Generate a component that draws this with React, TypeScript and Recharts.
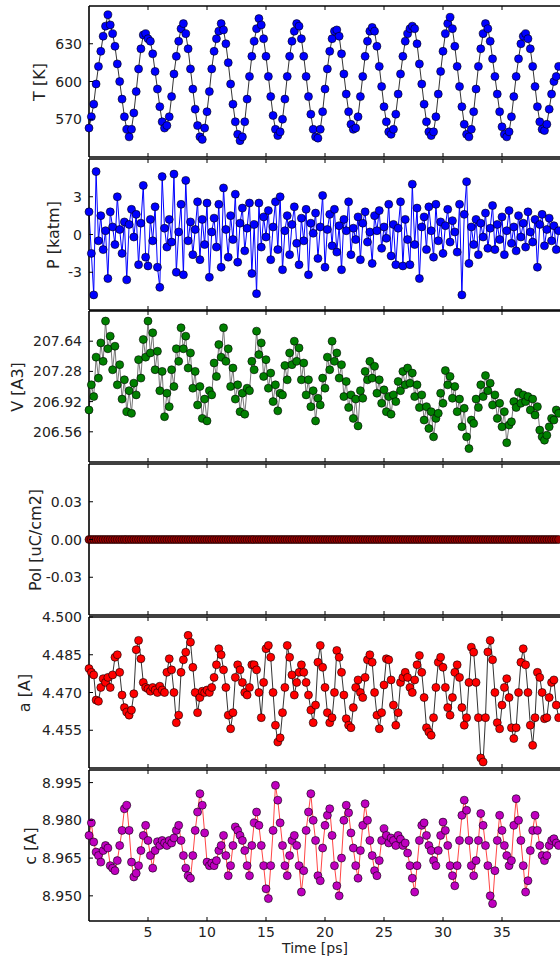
import React from 'react';
import { LineChart, Line, XAxis, YAxis } from 'recharts';

// time axis [ps], one sample every 0.2 ps
const TIME = [
  0, 0.2, 0.4, 0.6, 0.8, 1, 1.2, 1.4, 1.6, 1.8,
  2, 2.2, 2.4, 2.6, 2.8, 3, 3.2, 3.4, 3.6, 3.8,
  4, 4.2, 4.4, 4.6, 4.8, 5, 5.2, 5.4, 5.6, 5.8,
  6, 6.2, 6.4, 6.6, 6.8, 7, 7.2, 7.4, 7.6, 7.8,
  8, 8.2, 8.4, 8.6, 8.8, 9, 9.2, 9.4, 9.6, 9.8,
  10, 10.2, 10.4, 10.6, 10.8, 11, 11.2, 11.4, 11.6, 11.8,
  12, 12.2, 12.4, 12.6, 12.8, 13, 13.2, 13.4, 13.6, 13.8,
  14, 14.2, 14.4, 14.6, 14.8, 15, 15.2, 15.4, 15.6, 15.8,
  16, 16.2, 16.4, 16.6, 16.8, 17, 17.2, 17.4, 17.6, 17.8,
  18, 18.2, 18.4, 18.6, 18.8, 19, 19.2, 19.4, 19.6, 19.8,
  20, 20.2, 20.4, 20.6, 20.8, 21, 21.2, 21.4, 21.6, 21.8,
  22, 22.2, 22.4, 22.6, 22.8, 23, 23.2, 23.4, 23.6, 23.8,
  24, 24.2, 24.4, 24.6, 24.8, 25, 25.2, 25.4, 25.6, 25.8,
  26, 26.2, 26.4, 26.6, 26.8, 27, 27.2, 27.4, 27.6, 27.8,
  28, 28.2, 28.4, 28.6, 28.8, 29, 29.2, 29.4, 29.6, 29.8,
  30, 30.2, 30.4, 30.6, 30.8, 31, 31.2, 31.4, 31.6, 31.8,
  32, 32.2, 32.4, 32.6, 32.8, 33, 33.2, 33.4, 33.6, 33.8,
  34, 34.2, 34.4, 34.6, 34.8, 35, 35.2, 35.4, 35.6, 35.8,
  36, 36.2, 36.4, 36.6, 36.8, 37, 37.2, 37.4, 37.6, 37.8,
  38, 38.2, 38.4, 38.6, 38.8, 39, 39.2, 39.4, 39.6, 39.8,
];

// temperature [K]
const TEMP = [
  563, 572, 582, 598, 612, 624, 636, 644, 653, 645,
  638, 628, 614, 600, 586, 572, 562, 556, 562, 575,
  592, 610, 626, 637, 638, 634, 632, 622, 608, 594,
  580, 568, 563, 565, 572, 588, 606, 620, 632, 642,
  646, 638, 626, 610, 594, 578, 565, 556, 554, 563,
  576, 592, 610, 624, 634, 640, 646, 641, 630, 615,
  598, 582, 568, 558, 553, 556, 568, 586, 604, 620,
  632, 642, 650, 645, 634, 620, 604, 588, 573, 562,
  557, 560, 570, 586, 604, 620, 632, 640, 646, 644,
  634, 620, 604, 588, 574, 562, 556, 555, 562, 576,
  594, 610, 624, 634, 640, 641, 636, 622, 606, 590,
  576, 566, 562, 563, 572, 588, 604, 620, 632, 640,
  643, 640, 628, 612, 596, 580, 568, 560, 558, 562,
  574, 590, 606, 620, 632, 638, 642, 644, 642, 630,
  614, 598, 582, 568, 560, 557, 560, 572, 590, 608,
  624, 638, 646, 651, 642, 628, 612, 596, 580, 566,
  558, 556, 562, 576, 594, 612, 626, 638, 646, 642,
  632, 618, 604, 590, 576, 564, 558, 556, 560, 572,
  588, 604, 618, 630, 636, 638, 634, 626, 612, 596,
  580, 568, 562, 561, 566, 578, 590, 600, 604, 612,
];

// pressure [katm]
const PRESS = [
  1.8, -1.5, -4.8, 5.0, -0.5, 1.5, -1.2, 0.3, -3.5, 1.8,
  0.6, -0.8, 3.0, 0.4, -1.5, 1.0, -3.6, 0.8, 2.0, -0.2,
  1.6, -2.4, 0.9, 3.9, -1.8, -2.5, 1.2, -0.5, 2.2, -2.6,
  -4.2, 4.6, 0.5, -1.0, 1.2, -0.6, 4.8, -3.0, 0.2, 2.4,
  -3.2, 4.3, -0.5, 1.0, -1.6, 0.4, 2.6, -2.0, 1.2, -0.8,
  2.5, -3.4, 0.2, 1.3, -1.0, 2.4, -2.6, 3.7, 0.4, -1.8,
  1.5, -0.4, 3.2, -2.2, 0.9, 2.1, -1.3, 0.5, 2.5, -3.1,
  0.8, -4.7, 2.5, -1.0, 1.4, -0.2, 1.9, -2.0, 0.6, 2.6,
  -1.2, 3.0, -2.8, 0.3, 1.5, -1.6, 0.8, 2.2, -0.7, -2.4,
  1.3, -0.5, 2.0, -3.2, 0.9, 0.1, 1.7, -1.9, 0.6, 3.1,
  -2.6, 0.4, 1.6, -0.9, 2.0, -1.4, 0.7, -2.8, 1.2, 0.3,
  2.6, -1.6, 0.5, -0.4, 1.4, -2.0, 0.9, 1.8, -0.6, 0.2,
  -2.3, 1.5, 0.3, 1.9, -1.1, 0.6, -0.3, 2.4, -1.7, 0.8,
  -2.4, 0.5, 2.6, -2.5, 1.2, -0.4, -2.4, 4.0, -0.8, 2.1,
  -3.5, 0.6, 1.4, -1.2, 2.2, 0.3, -1.8, 2.4, -0.5, 1.0,
  -1.5, 0.7, 2.0, -0.6, 1.1, 0.2, -1.4, 2.4, -4.8, 1.6,
  4.2, -2.3, 0.6, -0.8, 1.2, -1.6, 0.9, -0.2, 1.7, -1.1,
  0.5, 2.3, -1.2, 0.8, -0.4, 1.4, -1.6, 0.3, 1.9, -0.7,
  0.6, -1.3, 1.5, -0.2, 0.9, -1.0, 1.8, 0.2, -0.6, 1.2,
  -2.6, 0.8, 1.6, -0.9, 0.4, 1.3, -0.5, 0.7, -1.2, 0.3,
];

// volume [A3]
const VOL = [
  206.82, 207.12, 206.98, 207.45, 207.2, 207.62, 207.4, 207.88, 207.55, 207.7,
  207.3, 207.58, 207.12, 207.36, 206.95, 207.18, 206.8, 207.05, 206.78, 207.14,
  207.0, 207.42, 207.2, 207.66, 207.45, 207.88, 207.5, 207.74, 207.3, 207.52,
  207.05, 207.28, 206.74, 207.02, 206.86, 207.3, 207.1, 207.55, 207.4, 207.8,
  207.55, 207.7, 207.32, 207.5, 207.08, 207.28, 206.88, 207.1, 206.72, 206.95,
  206.69, 207.05, 207.0, 207.38, 207.22, 207.6, 207.45, 207.8, 207.4, 207.55,
  207.1, 207.32, 206.95, 207.12, 206.8, 207.02, 206.77, 207.08, 207.05, 207.4,
  207.3, 207.76, 207.48, 207.62, 207.22, 207.42, 207.08, 207.26, 206.92, 207.12,
  206.81, 207.02, 207.0, 207.35, 207.18, 207.5, 207.36, 207.64, 207.4, 207.56,
  207.18, 207.38, 207.0, 207.18, 206.86, 207.05, 206.69, 206.96, 206.88, 207.2,
  207.08, 207.45, 207.3, 207.64, 207.4, 207.5, 207.2, 207.36, 206.98, 207.16,
  206.85, 207.0, 206.72, 206.95, 206.63, 207.05, 206.96, 207.28, 207.18, 207.4,
  207.2, 207.34, 207.02, 207.18, 206.9, 207.06, 206.8, 206.98, 206.77, 207.0,
  206.92, 207.16, 207.05, 207.28, 207.12, 207.32, 207.14, 207.26, 206.98, 207.12,
  206.85, 207.0, 206.7, 206.86, 206.6, 206.8, 206.5, 206.72, 206.78, 207.02,
  206.9, 207.29, 207.12, 207.22, 206.96, 207.1, 206.8, 206.95, 206.62, 206.84,
  206.5, 206.36, 206.7, 206.66, 206.95, 206.85, 207.12, 206.98, 207.23, 207.05,
  207.14, 206.88, 207.0, 206.72, 206.9, 206.62, 206.8, 206.43, 206.64, 206.68,
  206.92, 206.85, 207.03, 206.9, 207.0, 206.92, 206.98, 206.82, 206.95, 206.76,
  206.86, 206.58, 206.5, 206.46, 206.52, 206.62, 206.72, 206.7, 206.82, 206.78,
];

// polarization [uC/cm2]
const POL = [
  0, 0, 0, 0, 0, 0, 0, 0, 0, 0,
  0, 0, 0, 0, 0, 0, 0, 0, 0, 0,
  0, 0, 0, 0, 0, 0, 0, 0, 0, 0,
  0, 0, 0, 0, 0, 0, 0, 0, 0, 0,
  0, 0, 0, 0, 0, 0, 0, 0, 0, 0,
  0, 0, 0, 0, 0, 0, 0, 0, 0, 0,
  0, 0, 0, 0, 0, 0, 0, 0, 0, 0,
  0, 0, 0, 0, 0, 0, 0, 0, 0, 0,
  0, 0, 0, 0, 0, 0, 0, 0, 0, 0,
  0, 0, 0, 0, 0, 0, 0, 0, 0, 0,
  0, 0, 0, 0, 0, 0, 0, 0, 0, 0,
  0, 0, 0, 0, 0, 0, 0, 0, 0, 0,
  0, 0, 0, 0, 0, 0, 0, 0, 0, 0,
  0, 0, 0, 0, 0, 0, 0, 0, 0, 0,
  0, 0, 0, 0, 0, 0, 0, 0, 0, 0,
  0, 0, 0, 0, 0, 0, 0, 0, 0, 0,
  0, 0, 0, 0, 0, 0, 0, 0, 0, 0,
  0, 0, 0, 0, 0, 0, 0, 0, 0, 0,
  0, 0, 0, 0, 0, 0, 0, 0, 0, 0,
  0, 0, 0, 0, 0, 0, 0, 0, 0, 0,
];

// lattice a [A]
const LAT_A = [
  4.4795, 4.478, 4.477, 4.467, 4.4665, 4.472, 4.4755, 4.474, 4.476, 4.472,
  4.477, 4.484, 4.485, 4.478, 4.469, 4.464, 4.4622, 4.461, 4.463, 4.4695,
  4.487, 4.4907, 4.4834, 4.474, 4.472, 4.4715, 4.4705, 4.472, 4.471, 4.47,
  4.4725, 4.471, 4.47, 4.478, 4.4834, 4.479, 4.47, 4.458, 4.461, 4.478,
  4.483, 4.486, 4.4927, 4.49, 4.48, 4.47, 4.462, 4.468, 4.4705, 4.47,
  4.471, 4.47, 4.472, 4.476, 4.481, 4.4874, 4.485, 4.479, 4.472, 4.461,
  4.4556, 4.462, 4.476, 4.481, 4.479, 4.474, 4.47, 4.469, 4.472, 4.481,
  4.481, 4.479, 4.47, 4.46, 4.474, 4.4874, 4.4887, 4.484, 4.47, 4.457,
  4.4503, 4.452, 4.462, 4.472, 4.4887, 4.484, 4.477, 4.469, 4.474, 4.478,
  4.481, 4.478, 4.474, 4.469, 4.463, 4.458, 4.465, 4.482, 4.4887, 4.48,
  4.472, 4.462, 4.458, 4.46, 4.47, 4.4867, 4.484, 4.478, 4.469, 4.4596,
  4.457, 4.456, 4.464, 4.472, 4.475, 4.47, 4.468, 4.476, 4.483, 4.485,
  4.482, 4.47, 4.461, 4.4556, 4.462, 4.473, 4.4834, 4.483, 4.475, 4.465,
  4.457, 4.462, 4.474, 4.476, 4.478, 4.476, 4.472, 4.47, 4.475, 4.481,
  4.4847, 4.478, 4.468, 4.456, 4.4543, 4.453, 4.46, 4.472, 4.482, 4.484,
  4.48, 4.472, 4.464, 4.461, 4.468, 4.478, 4.481, 4.476, 4.464, 4.457,
  4.46, 4.474, 4.488, 4.486, 4.474, 4.46, 4.444, 4.4424, 4.46, 4.4861,
  4.4907, 4.483, 4.47, 4.458, 4.4556, 4.465, 4.472, 4.4755, 4.468, 4.456,
  4.4517, 4.456, 4.47, 4.482, 4.4874, 4.481, 4.47, 4.457, 4.449, 4.46,
  4.478, 4.476, 4.47, 4.4596, 4.46, 4.468, 4.474, 4.475, 4.465, 4.46,
];

// lattice c [A]
const LAT_C = [
  8.974, 8.979, 8.9714, 8.9674, 8.966, 8.9634, 8.968, 8.97, 8.969, 8.962,
  8.961, 8.96, 8.964, 8.97, 8.976, 8.9846, 8.986, 8.976, 8.9634, 8.9575,
  8.959, 8.962, 8.968, 8.974, 8.978, 8.972, 8.966, 8.961, 8.968, 8.9715,
  8.97, 8.972, 8.971, 8.97, 8.972, 8.971, 8.973, 8.976, 8.978, 8.972,
  8.966, 8.961, 8.958, 8.957, 8.966, 8.976, 8.9833, 8.9906, 8.986, 8.975,
  8.9634, 8.962, 8.963, 8.962, 8.964, 8.968, 8.97, 8.974, 8.966, 8.958,
  8.962, 8.97, 8.9774, 8.976, 8.974, 8.972, 8.968, 8.962, 8.958, 8.97,
  8.979, 8.9833, 8.978, 8.97, 8.962, 8.9528, 8.9489, 8.962, 8.976, 8.9939,
  8.988, 8.979, 8.97, 8.962, 8.958, 8.966, 8.972, 8.974, 8.97, 8.962,
  8.9515, 8.96, 8.976, 8.9833, 8.9906, 8.98, 8.972, 8.958, 8.956, 8.969,
  8.978, 8.982, 8.9846, 8.974, 8.962, 8.954, 8.95, 8.965, 8.98, 8.986,
  8.983, 8.975, 8.969, 8.962, 8.957, 8.968, 8.978, 8.9866, 8.98, 8.972,
  8.966, 8.96, 8.958, 8.964, 8.972, 8.9767, 8.974, 8.971, 8.973, 8.972,
  8.97, 8.974, 8.9725, 8.97, 8.971, 8.967, 8.962, 8.957, 8.9515, 8.962,
  8.972, 8.978, 8.979, 8.974, 8.97, 8.968, 8.964, 8.962, 8.968, 8.974,
  8.9793, 8.976, 8.97, 8.962, 8.958, 8.954, 8.962, 8.972, 8.982, 8.988,
  8.984, 8.972, 8.962, 8.958, 8.964, 8.972, 8.9827, 8.978, 8.97, 8.962,
  8.95, 8.9469, 8.96, 8.972, 8.982, 8.976, 8.97, 8.966, 8.962, 8.964,
  8.978, 8.9886, 8.98, 8.972, 8.962, 8.9515, 8.956, 8.968, 8.976, 8.982,
  8.976, 8.97, 8.966, 8.964, 8.966, 8.97, 8.972, 8.9727, 8.971, 8.97,
];

const X_TICKS = [5, 10, 15, 20, 25, 30, 35];

const rows = TIME.map((t, i) => ({
  t,
  T: TEMP[i],
  P: PRESS[i],
  V: VOL[i],
  Pol: POL[i],
  a: LAT_A[i],
  c: LAT_C[i],
}));

const FONT = '"DejaVu Sans", "Liberation Sans", sans-serif';
const PLOT_H = 151;
const TICK_LEN = 4;

const panels = [
  { key: 'T', title: 'T [K]', titleX: 40, top: 6, domain: [540, 660], ticks: [570, 600, 630], digits: 0, fill: '#0000ff', line: '#000000', lineW: 0.8 },
  { key: 'P', title: 'P [katm]', titleX: 54, top: 159, domain: [-6, 6], ticks: [-3, 0, 3], digits: 0, fill: '#0000ff', line: '#0000ff', lineW: 1 },
  { key: 'V', title: 'V [A3]', titleX: 18, top: 311, domain: [206.2, 208.0], ticks: [206.56, 206.92, 207.28, 207.64], digits: 2, fill: '#008000', line: '#555555', lineW: 0.8 },
  { key: 'Pol', title: 'Pol [uC/cm2]', titleX: 36, top: 464, domain: [-0.06, 0.06], ticks: [-0.03, 0, 0.03], digits: 2, fill: '#990000', line: '#000000', lineW: 0.8 },
  { key: 'a', title: 'a [A]', titleX: 25, top: 617, domain: [4.44, 4.5], ticks: [4.455, 4.47, 4.485, 4.5], digits: 3, fill: '#ff0000', line: '#000000', lineW: 0.8 },
  { key: 'c', title: 'c [A]', titleX: 31, top: 770, domain: [8.94, 9.0], ticks: [8.95, 8.965, 8.98, 8.995], digits: 3, fill: '#bf00bf', line: '#ff3030', lineW: 0.9 },
];

const makeLeftTick = (digits: number) => (props: any) => {
  const { x, y, payload } = props;
  return (
    <g>
      <line x1={x} x2={x + TICK_LEN} y1={y} y2={y} stroke="#000" strokeWidth={1} />
      <text x={x - 7} y={y + 5} textAnchor="end" fontSize={14} fontFamily={FONT} fill="#222">
        {Number(payload.value).toFixed(digits)}
      </text>
    </g>
  );
};

const topTick = (props: any) => {
  const { x, y } = props;
  return <line x1={x} x2={x} y1={y} y2={y + TICK_LEN} stroke="#000" strokeWidth={1} />;
};

const makeBottomTick = (labels: boolean) => (props: any) => {
  const { x, y, payload } = props;
  return (
    <g>
      <line x1={x} x2={x} y1={y} y2={y - TICK_LEN} stroke="#000" strokeWidth={1} />
      {labels && (
        <text x={x} y={y + 16} textAnchor="middle" fontSize={14} fontFamily={FONT} fill="#222">
          {payload.value}
        </text>
      )}
    </g>
  );
};

const spine = { stroke: '#000', strokeWidth: 1.6 };

const Title = ({ text, cx, cy }: { text: string; cx: number; cy: number }) => (
  <div
    style={{
      position: 'absolute',
      left: cx - 100,
      top: cy - 10,
      width: 200,
      height: 20,
      lineHeight: '20px',
      textAlign: 'center',
      transform: 'rotate(-90deg)',
      fontFamily: FONT,
      fontSize: 16,
      color: '#222',
      whiteSpace: 'nowrap',
    }}
  >
    {text}
  </div>
);

const Panel = ({ p, last }: { p: (typeof panels)[number]; last: boolean }) => {
  const xH = last ? 40 : 1;
  const mb = last ? 0 : 3;
  const height = 4 + PLOT_H + xH + mb;
  return (
    <div style={{ position: 'absolute', left: 0, top: p.top - 4 }}>
      <LineChart width={561} height={height} data={rows} margin={{ top: 3, right: 0, bottom: mb, left: 0 }}>
        <XAxis
          xAxisId="top"
          orientation="top"
          dataKey="t"
          type="number"
          domain={[0, 40]}
          ticks={X_TICKS}
          interval={0}
          height={1}
          tickSize={0}
          tickMargin={0}
          tickLine={false}
          axisLine={spine}
          tick={topTick}
        />
        <XAxis
          dataKey="t"
          type="number"
          domain={[0, 40]}
          ticks={X_TICKS}
          interval={0}
          height={xH}
          tickSize={0}
          tickMargin={0}
          tickLine={false}
          axisLine={spine}
          tick={makeBottomTick(last)}
        />
        <YAxis
          type="number"
          domain={p.domain}
          ticks={p.ticks}
          interval={0}
          width={89}
          tickSize={0}
          tickMargin={0}
          tickLine={false}
          axisLine={spine}
          tick={makeLeftTick(p.digits)}
        />
        <Line
          type="linear"
          dataKey={p.key}
          stroke={p.line}
          strokeWidth={p.lineW}
          dot={{ r: 4, fill: p.fill, stroke: '#000', strokeWidth: 0.6 }}
          activeDot={false}
          isAnimationActive={false}
        />
      </LineChart>
    </div>
  );
};

export default function App() {
  return (
    <div
      style={{
        position: 'absolute',
        left: 0,
        top: 0,
        width: 560,
        height: 964,
        overflow: 'hidden',
        background: '#fff',
      }}
    >
      <style>{'.recharts-surface { overflow: visible; }'}</style>
      {panels.map((p, i) => (
        <Panel key={p.key} p={p} last={i === panels.length - 1} />
      ))}
      {panels.map((p) => (
        <Title key={'t' + p.key} text={p.title} cx={p.titleX} cy={p.top + PLOT_H / 2} />
      ))}
      <div
        style={{
          position: 'absolute',
          left: 215,
          top: 941,
          width: 200,
          height: 15,
          lineHeight: '15px',
          textAlign: 'center',
          fontFamily: FONT,
          fontSize: 14,
          color: '#222',
        }}
      >
        Time [ps]
      </div>
    </div>
  );
}
